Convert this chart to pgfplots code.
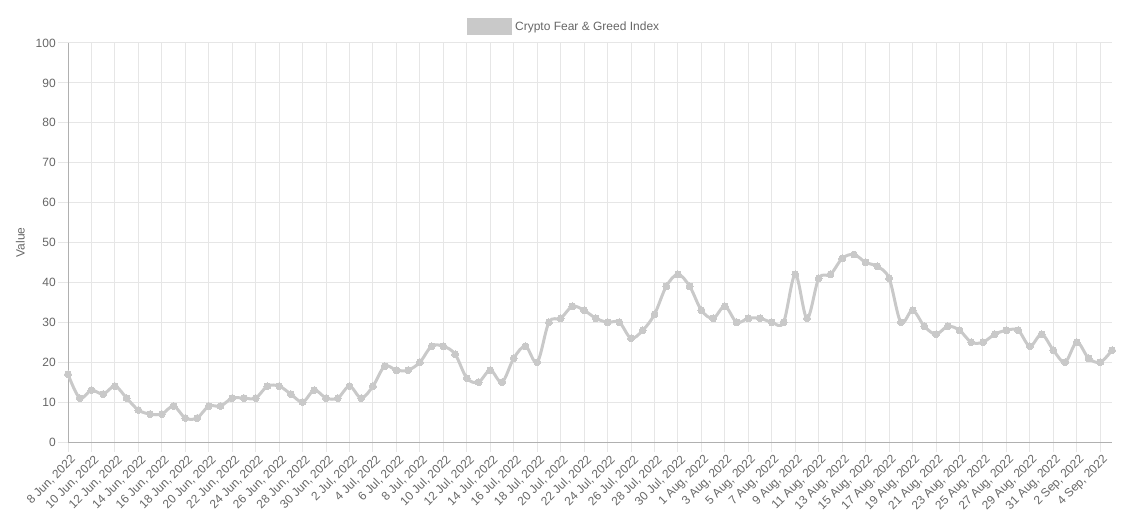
\documentclass[border=0pt]{standalone}
\usepackage{pgfplots}
\pgfplotsset{compat=1.18}
\usepackage{fontspec}
\setmainfont{Liberation Sans}
\definecolor{linec}{HTML}{C9C9C9}
\definecolor{gridc}{HTML}{E6E6E6}
\definecolor{axisc}{HTML}{B0B0B0}
\definecolor{textc}{HTML}{666666}
\pgfplotstableread{
x y
0 17
1 11
2 13
3 12
4 14
5 11
6 8
7 7
8 7
9 9
10 6
11 6
12 9
13 9
14 11
15 11
16 11
17 14
18 14
19 12
20 10
21 13
22 11
23 11
24 14
25 11
26 14
27 19
28 18
29 18
30 20
31 24
32 24
33 22
34 16
35 15
36 18
37 15
38 21
39 24
40 20
41 30
42 31
43 34
44 33
45 31
46 30
47 30
48 26
49 28
50 32
51 39
52 42
53 39
54 33
55 31
56 34
57 30
58 31
59 31
60 30
61 30
62 42
63 31
64 41
65 42
66 46
67 47
68 45
69 44
70 41
71 30
72 33
73 29
74 27
75 29
76 28
77 25
78 25
79 27
80 28
81 28
82 24
83 27
84 23
85 20
86 25
87 21
88 20
89 23
}\fgdata
\begin{document}
\begin{tikzpicture}
\begin{axis}[
  name=ax,
  scale only axis,
  width=783pt, height=299.25pt,
  xmin=0, xmax=89, ymin=0, ymax=100,
  axis x line=bottom, axis y line=left,
  axis line style={draw=axisc, line width=0.75pt, -},
  xtick={0,2,...,88},
  xticklabels={{8 Jun, 2022},{10 Jun, 2022},{12 Jun, 2022},{14 Jun, 2022},{16 Jun, 2022},{18 Jun, 2022},{20 Jun, 2022},{22 Jun, 2022},{24 Jun, 2022},{26 Jun, 2022},{28 Jun, 2022},{30 Jun, 2022},{2 Jul, 2022},{4 Jul, 2022},{6 Jul, 2022},{8 Jul, 2022},{10 Jul, 2022},{12 Jul, 2022},{14 Jul, 2022},{16 Jul, 2022},{18 Jul, 2022},{20 Jul, 2022},{22 Jul, 2022},{24 Jul, 2022},{26 Jul, 2022},{28 Jul, 2022},{30 Jul, 2022},{1 Aug, 2022},{3 Aug, 2022},{5 Aug, 2022},{7 Aug, 2022},{9 Aug, 2022},{11 Aug, 2022},{13 Aug, 2022},{15 Aug, 2022},{17 Aug, 2022},{19 Aug, 2022},{21 Aug, 2022},{23 Aug, 2022},{25 Aug, 2022},{27 Aug, 2022},{29 Aug, 2022},{31 Aug, 2022},{2 Sep, 2022},{4 Sep, 2022}},
  ytick={0,10,...,100},
  tick align=outside,
  major tick length=7.5pt,
  tick style={draw=gridc, line width=0.75pt},
  grid=major,
  major grid style={draw=gridc, line width=0.75pt},
  ticklabel style={font=\fontsize{9pt}{10pt}\selectfont, text=textc},
  /pgf/number format/assume math mode=true,
  xticklabel style={rotate=45, anchor=east, inner sep=1pt, yshift=-6pt, xshift=1pt},
  yticklabel style={inner sep=1.5pt},
  ylabel={Value},
  every axis y label/.style={at={(ticklabel cs:0.5)}, rotate=90, anchor=center, yshift=10pt,
    font=\fontsize{9pt}{10pt}\selectfont, text=textc},
  legend style={at={(0.5,1)}, anchor=center, xshift=-19pt, yshift=12pt, draw=none, fill=none,
    font=\fontsize{9pt}{10pt}\selectfont, text=textc, inner sep=0pt},
  legend image code/.code={\fill[linec] (0pt,-5.25pt) rectangle (31.5pt,5.25pt);},
  clip=false,
]
\addplot[linec, line width=2.25pt, smooth, tension=0.55, mark=*, mark size=2.6pt,
  mark options={fill=linec, draw=linec, line width=0pt}] table[x=x,y=y] {\fgdata};
\addlegendentry{Crypto Fear \& Greed Index}
\end{axis}
\pgfresetboundingbox
\path[use as bounding box] ([xshift=-51pt,yshift=-66pt]ax.south west) rectangle ([xshift=11.25pt,yshift=32.25pt]ax.north east);
\end{tikzpicture}
\end{document}
